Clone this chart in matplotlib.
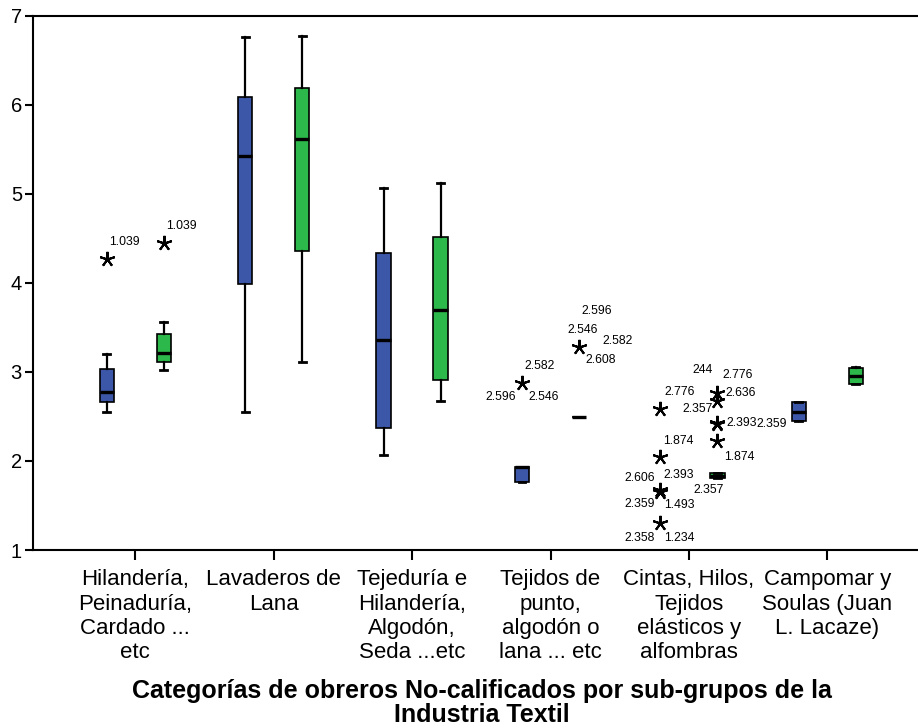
import matplotlib

matplotlib.use("Agg")
import matplotlib.pyplot as plt
from matplotlib import font_manager


CATEGORIES = [
    "Hilandería,\nPeinaduría,\nCardado ...\netc",
    "Lavaderos de\nLana",
    "Tejeduría e\nHilandería,\nAlgodón,\nSeda ...etc",
    "Tejidos de\npunto,\nalgodón o\nlana ... etc",
    "Cintas, Hilos,\nTejidos\nelásticos y\nalfombras",
    "Campomar y\nSoulas (Juan\nL. Lacaze)",
]

# box statistics per sub-group (None = no box drawn)
blue_whislo = [2.55, 2.55, 2.07, 1.76, None, 2.45]
blue_q1 = [2.66, 3.99, 2.37, 1.76, None, 2.45]
blue_med = [2.77, 5.43, 3.36, 1.93, None, 2.55]
blue_q3 = [3.03, 6.09, 4.34, 1.93, None, 2.66]
blue_whishi = [3.20, 6.76, 5.06, 1.93, None, 2.66]

green_whislo = [3.02, 3.11, 2.67, 2.49, 1.81, 2.86]
green_q1 = [3.11, 4.36, 2.91, 2.49, 1.81, 2.86]
green_med = [3.21, 5.61, 3.69, 2.49, 1.83, 2.95]
green_q3 = [3.43, 6.19, 4.51, 2.49, 1.86, 3.04]
green_whishi = [3.56, 6.77, 5.12, 2.49, 1.86, 3.05]

# extreme values: group index, value, case labels
blue_ext_group = [0, 3, 4, 4, 4, 4, 4]
blue_ext_value = [4.27, 2.87, 2.58, 2.04, 1.65, 1.67, 1.30]
blue_ext_cases = [
    ["1.039"],
    ["2.582", "2.596", "2.546"],
    ["2.776"],
    ["1.874"],
    ["2.359", "1.493"],
    ["2.606", "2.393"],
    ["2.358", "1.234"],
]
green_ext_group = [0, 3, 4, 4, 4, 4, 4]
green_ext_value = [4.45, 3.28, 2.76, 2.67, 2.42, 2.43, 2.22]
green_ext_cases = [
    ["1.039"],
    ["2.596", "2.546", "2.582", "2.608"],
    ["2.636", "2.776", "244"],
    ["2.357"],
    [],
    ["2.393"],
    ["1.874"],
]
# case labels sitting next to a box (series, group, label)
box_cases = [("green", 4, "2.357"), ("blue", 5, "2.359")]

# label offsets in pixels from the marker
blue_label_offsets = [
    [(18, 17)],
    [(18, 17), (-21, -14), (22, -14)],
    [(19, 17)],
    [(18, 16)],
    [(-21, -12), (19, -13)],
    [(-21, 12), (18, 15)],
    [(-21, -15), (19, -15)],
]
green_label_offsets = [
    [(18, 17)],
    [(18, 36), (4, 17), (39, 6), (22, -13)],
    [(23, 0), (20, 18), (-15, 23)],
    [(-20, -8)],
    [],
    [(24, 0)],
    [(22, -16)],
]
box_label_offsets = [(-9, -14), (-27, -12)]

BLUE = "#3D57A8"
GREEN = "#2DB84B"
OFFSET = 0.206
WIDTH = 0.105

family = "Liberation Sans"
names = set(f.name for f in font_manager.fontManager.ttflist)
if family not in names:
    family = "DejaVu Sans"
plt.rcParams["font.family"] = family


def box_stats(whislo, q1, med, q3, whishi):
    stats, idx = [], []
    for i in range(len(med)):
        if med[i] is None:
            continue
        stats.append(dict(whislo=whislo[i], q1=q1[i], med=med[i], q3=q3[i],
                          whishi=whishi[i], fliers=[]))
        idx.append(i)
    return stats, idx


fig = plt.figure(figsize=(9.18, 7.28), dpi=100)
ax = fig.add_axes([33 / 918, 178 / 728, 885 / 918, 534.3 / 728])

series = [
    ("blue", BLUE, -OFFSET, (blue_whislo, blue_q1, blue_med, blue_q3, blue_whishi)),
    ("green", GREEN, OFFSET, (green_whislo, green_q1, green_med, green_q3, green_whishi)),
]
box_pos = {}
for name, color, off, cols in series:
    stats, idx = box_stats(*cols)
    pos = [i + off for i in idx]
    ax.bxp(stats, positions=pos, widths=WIDTH, patch_artist=True,
           showfliers=False, capwidths=0.05,
           boxprops=dict(facecolor=color, edgecolor="black", linewidth=1.2),
           medianprops=dict(color="black", linewidth=2.4, solid_capstyle="butt"),
           whiskerprops=dict(color="black", linewidth=1.6),
           capprops=dict(color="black", linewidth=2.0))
    for i, s in zip(idx, stats):
        box_pos[(name, i)] = (i + off, s["med"])

extremes = [
    (-OFFSET, blue_ext_group, blue_ext_value, blue_ext_cases, blue_label_offsets),
    (OFFSET, green_ext_group, green_ext_value, green_ext_cases, green_label_offsets),
]
for off, groups, values, cases, offsets in extremes:
    xs = [g + off for g in groups]
    ax.plot(xs, values, linestyle="none", marker=(5, 2, 0), markersize=11,
            markeredgewidth=1.5, color="black", zorder=4)
    for x, y, labels, offs in zip(xs, values, cases, offsets):
        for text, (dx, dy) in zip(labels, offs):
            ax.annotate(text, (x, y), xytext=(dx, dy), textcoords="offset pixels",
                        ha="center", va="center", fontsize=8.8)

for (name, g, text), (dx, dy) in zip(box_cases, box_label_offsets):
    ax.annotate(text, box_pos[(name, g)], xytext=(dx, dy), textcoords="offset pixels",
                ha="center", va="center", fontsize=8.8)

ax.set_xlim((33 - 135.3) / 138.4, (918 - 135.3) / 138.4)
ax.set_ylim(1, 7)
ax.set_yticks(range(1, 8))
ax.set_xticks(range(len(CATEGORIES)))
ax.set_xticklabels(CATEGORIES, fontsize=16, linespacing=1.2)
ax.tick_params(axis="y", direction="out", length=6, width=1.5, labelsize=14.5, pad=2)
ax.tick_params(axis="x", direction="out", length=7, width=1.5, pad=7)
for side in ("left", "top", "bottom"):
    ax.spines[side].set_linewidth(1.5)
ax.spines["right"].set_visible(False)

fig.text(482 / 918, 1 - 703 / 728,
         "Categorías de obreros No-calificados por sub-grupos de la\nIndustria Textil",
         ha="center", va="center", fontsize=18, fontweight="bold", linespacing=1.0)

fig.savefig("out.png", dpi=100)
